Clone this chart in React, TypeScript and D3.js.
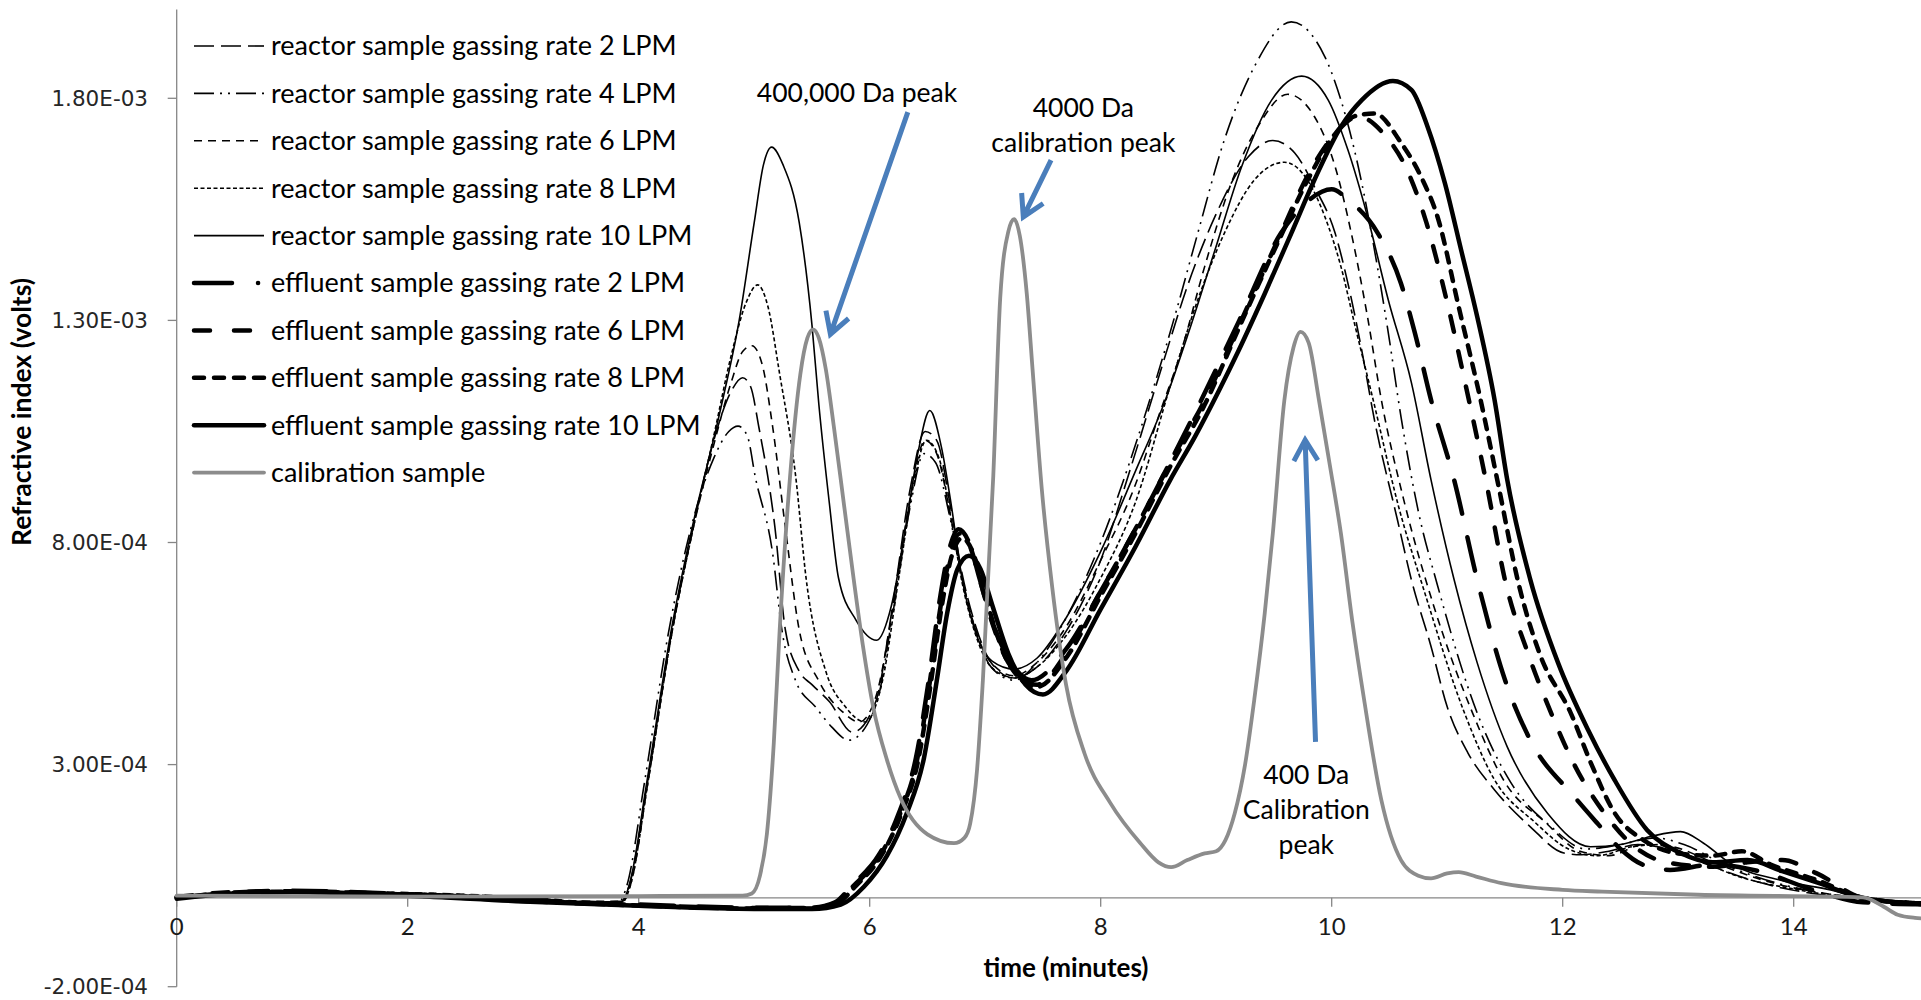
import React from 'react';
import * as d3 from 'd3';

// values are refractive index in units of 1e-4 volts, time in minutes
const reactor2 = [[0,0.02],[0.5,0.12],[1,0.15],[2,0.1],[3,0],[3.6,-0.1],[3.85,-0.08],[3.92,0.3],[4.07,2.5],[4.28,5.9],[4.46,8.2],[4.65,10.3],[4.8,11.4],[4.9,11.71],[4.97,11.5],[5.04,10.6],[5.18,8.33],[5.27,6.03],[5.39,5.1],[5.5,4.8],[5.65,4.42],[5.85,3.73],[6.05,4.4],[6.2,6.6],[6.35,9.2],[6.48,10.5],[6.58,10.3],[6.7,8.8],[6.8,7.3],[6.92,6.1],[7.05,5.3],[7.25,4.95],[7.45,5.2],[7.7,6.0],[8.0,7.6],[8.25,9.6],[8.53,11.96],[8.76,13.84],[8.99,15.34],[9.28,16.69],[9.49,17.05],[9.68,16.77],[9.85,16.01],[10.03,14.96],[10.14,13.84],[10.26,12.33],[10.37,10.76],[10.57,8.5],[10.69,7.16],[10.86,5.66],[11.0,4.3],[11.18,3.26],[11.41,2.43],[11.72,1.6],[12.01,1.01],[12.16,0.97],[12.4,1.05],[12.65,1.2],[12.9,1.1],[13.2,0.8],[13.7,0.35],[14.3,0.05],[15.2,-0.1]];
const reactor4 = [[0,0],[0.5,0.1],[1,0.13],[2,0.1],[3,-0.02],[3.6,-0.12],[3.83,-0.1],[3.9,0.3],[4.05,2.6],[4.26,6.0],[4.45,8.3],[4.65,9.9],[4.78,10.5],[4.86,10.62],[4.94,10.4],[5.01,9.47],[5.16,7.75],[5.24,6.03],[5.36,4.88],[5.53,4.3],[5.67,3.85],[5.82,3.55],[6.05,4.3],[6.2,6.4],[6.35,8.8],[6.47,10.0],[6.57,9.8],[6.7,8.5],[6.8,7.2],[6.92,6.0],[7.05,5.2],[7.25,4.9],[7.45,5.3],[7.7,6.3],[8.0,8.0],[8.25,9.8],[8.47,11.59],[8.64,13.08],[8.84,14.96],[9.07,17.06],[9.33,18.71],[9.65,19.72],[9.94,18.94],[10.08,17.96],[10.23,16.46],[10.37,14.59],[10.49,12.72],[10.6,10.83],[10.75,8.7],[10.92,7.0],[11.26,4.16],[11.55,2.6],[11.9,1.6],[12.2,1.1],[12.5,1.2],[12.8,1.35],[13.05,1.2],[13.4,0.75],[13.9,0.3],[14.4,0.05],[15.2,-0.1]];
const reactor6 = [[0,0.03],[0.5,0.12],[1,0.16],[2,0.12],[3,0.02],[3.6,-0.08],[3.86,-0.08],[3.93,0.3],[4.08,2.6],[4.29,6.0],[4.47,8.3],[4.65,10.2],[4.8,11.6],[4.9,12.3],[4.98,12.43],[5.07,12.0],[5.16,10.6],[5.27,8.33],[5.39,6.03],[5.56,4.88],[5.76,4.2],[5.91,3.96],[6.05,4.5],[6.2,6.5],[6.35,9.0],[6.48,10.3],[6.58,10.0],[6.7,8.6],[6.8,7.2],[6.92,6.0],[7.05,5.3],[7.25,5.0],[7.45,5.3],[7.7,6.1],[8.0,7.6],[8.3,9.3],[8.5,10.83],[8.7,12.33],[8.9,14.21],[9.13,16.09],[9.36,17.36],[9.62,18.09],[9.85,17.59],[10.03,16.46],[10.17,14.96],[10.31,13.08],[10.43,11.21],[10.62,9.0],[10.88,6.6],[11.22,4.16],[11.5,2.6],[11.85,1.7],[12.15,1.05],[12.4,0.95],[12.7,1.2],[12.95,1.15],[13.3,0.8],[13.8,0.35],[14.4,0.05],[15.2,-0.1]];
const reactor8 = [[0,0.01],[0.5,0.11],[1,0.14],[2,0.11],[3,0.01],[3.6,-0.09],[3.86,-0.09],[3.93,0.3],[4.08,2.6],[4.29,6.0],[4.47,8.3],[4.65,10.4],[4.8,12.2],[4.93,13.4],[5.03,13.8],[5.12,13.3],[5.22,11.8],[5.36,9.47],[5.45,7.18],[5.62,5.1],[5.79,4.3],[5.96,3.96],[6.11,4.88],[6.25,7.18],[6.38,9.3],[6.49,10.3],[6.6,9.9],[6.7,8.6],[6.8,7.1],[6.92,5.9],[7.05,5.2],[7.25,4.95],[7.45,5.2],[7.7,5.9],[8.0,7.2],[8.3,8.9],[8.61,11.59],[8.84,13.46],[9.07,14.96],[9.33,16.16],[9.59,16.56],[9.79,16.16],[9.94,15.34],[10.08,14.21],[10.2,12.9],[10.36,11.2],[10.58,8.8],[10.79,7.0],[11.15,4.16],[11.4,2.7],[11.76,1.7],[12.05,1.1],[12.3,0.95],[12.6,1.15],[12.85,1.2],[13.1,0.95],[13.5,0.5],[14.0,0.2],[14.5,0.0],[15.2,-0.1]];
const reactor10 = [[0,0.0],[0.5,0.1],[1,0.14],[2,0.11],[3,0.0],[3.6,-0.1],[3.85,-0.1],[3.92,0.3],[4.07,2.6],[4.28,6.0],[4.46,8.3],[4.7,10.9],[4.87,13.0],[5.0,15.2],[5.08,16.5],[5.15,16.9],[5.25,16.5],[5.39,15.2],[5.5,12.9],[5.56,11.1],[5.65,8.9],[5.73,7.2],[5.88,6.26],[6.06,5.8],[6.19,6.6],[6.31,8.33],[6.42,10.05],[6.52,10.97],[6.62,10.16],[6.71,8.78],[6.8,7.18],[6.91,6.03],[7.06,5.33],[7.25,5.15],[7.45,5.4],[7.7,6.3],[8.0,7.8],[8.3,9.6],[8.56,11.21],[8.76,12.72],[8.99,14.59],[9.22,16.46],[9.48,17.96],[9.74,18.5],[9.97,17.96],[10.14,16.84],[10.31,15.34],[10.49,13.46],[10.69,11.6],[10.86,9.41],[11.06,7.16],[11.26,5.29],[11.52,3.4],[11.87,1.9],[12.24,1.15],[12.5,1.2],[12.76,1.38],[13.02,1.49],[13.22,1.23],[13.45,0.78],[13.88,0.4],[14.32,0.18],[14.7,-0.05],[15.2,-0.1]];
const effluent2 = [[0,0],[0.5,0.12],[1,0.16],[2,0.08],[3,-0.05],[4,-0.15],[5,-0.22],[5.5,-0.22],[5.7,-0.1],[5.85,0.29],[6.08,0.97],[6.25,1.89],[6.4,3.15],[6.51,4.88],[6.6,6.6],[6.68,7.75],[6.77,8.3],[6.86,8.0],[6.95,7.2],[7.05,6.3],[7.2,5.4],[7.4,4.9],[7.7,5.6],[8.0,6.9],[8.3,8.3],[8.6,9.8],[8.87,11.2],[9.2,13.0],[9.56,14.96],[9.8,15.7],[10.0,15.95],[10.15,15.7],[10.4,14.96],[10.6,13.83],[10.72,12.72],[10.86,11.21],[11.06,9.41],[11.26,7.16],[11.5,4.91],[11.72,3.55],[12.1,2.28],[12.3,1.68],[12.5,1.1],[12.7,0.74],[12.93,0.63],[13.3,0.75],[13.7,0.6],[14.2,0.15],[14.6,-0.1],[15.2,-0.15]];
const effluent6 = [[0,0.02],[0.5,0.13],[1,0.15],[2,0.07],[3,-0.06],[4,-0.16],[5,-0.23],[5.5,-0.23],[5.7,-0.12],[5.86,0.27],[6.09,0.95],[6.26,1.87],[6.41,3.1],[6.52,4.85],[6.61,6.5],[6.69,7.65],[6.78,8.2],[6.87,7.9],[6.96,7.1],[7.06,6.2],[7.2,5.3],[7.45,4.8],[7.7,5.5],[8.0,6.9],[8.3,8.3],[8.6,9.8],[8.9,11.2],[9.2,12.9],[9.56,14.96],[9.8,16.3],[10.03,17.2],[10.23,17.59],[10.45,17.2],[10.65,16.4],[10.82,15.2],[11.0,13.4],[11.15,11.66],[11.35,9.2],[11.5,7.16],[11.7,5.5],[11.9,4.16],[12.1,3.0],[12.36,1.91],[12.6,1.2],[12.9,0.8],[13.3,0.7],[13.6,0.8],[13.9,0.85],[14.2,0.55],[14.6,0.0],[15.2,-0.15]];
const effluent8 = [[0,0.01],[0.5,0.11],[1,0.14],[2,0.06],[3,-0.07],[4,-0.17],[5,-0.24],[5.5,-0.24],[5.72,-0.12],[5.88,0.27],[6.1,0.95],[6.27,1.87],[6.42,3.1],[6.53,4.85],[6.62,6.5],[6.7,7.6],[6.8,8.1],[6.89,7.8],[6.98,7.0],[7.08,6.1],[7.22,5.2],[7.45,4.75],[7.7,5.4],[8.0,6.8],[8.3,8.2],[8.6,9.7],[8.9,11.1],[9.2,12.85],[9.56,14.9],[9.8,16.2],[10.03,17.2],[10.2,17.6],[10.37,17.66],[10.6,17.0],[10.78,16.2],[10.92,15.3],[11.1,13.3],[11.29,11.2],[11.45,9.2],[11.61,7.16],[11.8,5.5],[12.07,4.16],[12.25,3.0],[12.45,1.91],[12.7,1.3],[13.0,1.0],[13.3,0.95],[13.55,1.05],[13.8,0.75],[14.2,0.4],[14.6,0.0],[15.2,-0.15]];
const effluent10 = [[0,-0.02],[0.5,0.1],[1,0.13],[2,0.05],[3,-0.08],[4,-0.18],[5,-0.25],[5.5,-0.25],[5.75,-0.15],[5.95,0.25],[6.15,0.95],[6.32,1.9],[6.47,3.15],[6.58,4.88],[6.67,6.4],[6.76,7.4],[6.86,7.7],[6.96,7.4],[7.06,6.6],[7.2,5.5],[7.35,4.8],[7.5,4.58],[7.7,5.1],[8.0,6.5],[8.3,7.9],[8.6,9.4],[8.82,10.4],[9.02,11.4],[9.19,12.3],[9.42,13.6],[9.65,14.96],[9.85,16.16],[10.08,17.36],[10.26,17.96],[10.53,18.39],[10.69,18.19],[10.83,17.36],[10.98,16.09],[11.12,14.59],[11.26,13.08],[11.41,11.21],[11.52,9.41],[11.72,7.16],[11.96,5.29],[12.22,3.78],[12.45,2.65],[12.73,1.53],[13.02,1.01],[13.3,0.8],[13.6,0.85],[13.9,0.6],[14.2,0.35],[14.6,0.0],[15.2,-0.15]];
const calibration = [[0,0.05],[2,0.03],[4,0.04],[4.9,0.05],[4.98,0.1],[5.05,0.5],[5.11,1.44],[5.17,3.5],[5.22,6.0],[5.31,9.47],[5.4,11.8],[5.46,12.6],[5.51,12.8],[5.56,12.6],[5.62,11.9],[5.69,10.6],[5.78,8.8],[5.86,7.2],[5.94,5.7],[6.03,4.3],[6.15,3.1],[6.27,2.23],[6.5,1.43],[6.73,1.23],[6.82,1.35],[6.87,1.67],[6.93,2.9],[6.98,4.9],[7.07,9.5],[7.13,13.5],[7.2,15.0],[7.25,15.28],[7.3,14.9],[7.36,13.6],[7.41,11.9],[7.49,9.2],[7.58,7.0],[7.7,4.8],[7.86,3.25],[8.08,2.15],[8.34,1.24],[8.5,0.8],[8.61,0.69],[8.75,0.85],[8.9,1.0],[9.0,1.05],[9.08,1.3],[9.16,1.9],[9.25,3.0],[9.33,4.47],[9.42,6.4],[9.49,8.2],[9.59,11.2],[9.67,12.4],[9.73,12.74],[9.8,12.5],[9.89,11.2],[9.98,9.8],[10.08,8.2],[10.18,6.2],[10.28,4.47],[10.43,2.2],[10.6,0.85],[10.75,0.5],[10.86,0.44],[11.0,0.55],[11.1,0.58],[11.25,0.48],[11.47,0.33],[12.0,0.18],[12.34,0.14],[13.17,0.07],[14.6,0.01],[14.78,-0.2],[14.9,-0.38],[15.05,-0.45],[15.2,-0.47]];

const seriesNames = [
  'reactor sample gassing rate 2 LPM',
  'reactor sample gassing rate 4 LPM',
  'reactor sample gassing rate 6 LPM',
  'reactor sample gassing rate 8 LPM',
  'reactor sample gassing rate 10 LPM',
  'effluent sample gassing rate 2 LPM',
  'effluent sample gassing rate 6 LPM',
  'effluent sample gassing rate 8 LPM',
  'effluent sample gassing rate 10 LPM',
  'calibration sample',
];
const seriesData = [reactor2, reactor4, reactor6, reactor8, reactor10, effluent2, effluent6, effluent8, effluent10, calibration];

const xTicks = [0, 2, 4, 6, 8, 10, 12, 14];
const yTicks = [-2e-4, 3e-4, 8e-4, 1.3e-3, 1.8e-3];
const yTickLabels = ['-2.00E-04', '3.00E-04', '8.00E-04', '1.30E-03', '1.80E-03'];

// annotation anchors in data units (minutes, 1e-4 V)
const annotationTexts = [
  { lines: ['400,000 Da peak'], at: [5.89, 18.12] },
  { lines: ['4000 Da', 'calibration peak'], at: [7.85, 17.78] },
  { lines: ['400 Da', 'Calibration', 'peak'], at: [9.78, 2.78] },
];
const annotationArrows = [
  { from: [6.33, 17.69], to: [5.66, 12.69] },
  { from: [7.57, 16.61], to: [7.33, 15.33] },
  { from: [9.86, 3.51], to: [9.77, 10.31] },
];

const W = 1921;
const H = 1000;
const FONT = 'Lato, "Open Sans", sans-serif';

const styles = [
  { color: '#000', width: 1.6, dash: '20 7', legendDash: '20 7', cap: 'butt' },
  { color: '#000', width: 1.6, dash: '20 6 2 6 2 6', legendDash: '20 6 2 6 2 6', cap: 'butt' },
  { color: '#000', width: 1.6, dash: '8 6', legendDash: '8 6', cap: 'butt' },
  { color: '#000', width: 1.6, dash: '4 2.5', legendDash: '4 2.5', cap: 'butt' },
  { color: '#000', width: 1.6, dash: null, legendDash: null, cap: 'butt' },
  { color: '#000', width: 4.5, dash: '34 24', legendDash: '38 26 0.1 30', cap: 'round' },
  { color: '#000', width: 4.5, dash: '16 20', legendDash: '16 24', cap: 'round' },
  { color: '#000', width: 4.5, dash: '10 9', legendDash: '10 10', cap: 'round' },
  { color: '#000', width: 4.5, dash: null, legendDash: null, cap: 'round' },
  { color: '#8c8c8c', width: 3.8, dash: null, legendDash: null, cap: 'round' },
];

export default function App() {
  const x = d3.scaleLinear().domain([0, 15]).range([176.7, 176.7 + 15 * 115.5]);
  const y = d3.scaleLinear().domain([-2e-4, 2e-3]).range([986.7, 986.7 - 2.2 * 444.2]);

  const line = d3
    .line<number[]>()
    .x(d => x(d[0]))
    .y(d => y(d[1] * 1e-4))
    .curve(d3.curveMonotoneX);

  const axisColor = '#868686';
  const blue = '#4a7ebb';

  const arrowPath = (a: { from: number[]; to: number[] }) => {
    const x1 = x(a.from[0]);
    const y1 = y(a.from[1] * 1e-4);
    const x2 = x(a.to[0]);
    const y2 = y(a.to[1] * 1e-4);
    const ang = Math.atan2(y2 - y1, x2 - x1);
    const len = 24;
    const spread = Math.PI / 6;
    const w1 = [x2 - len * Math.cos(ang - spread), y2 - len * Math.sin(ang - spread)];
    const w2 = [x2 - len * Math.cos(ang + spread), y2 - len * Math.sin(ang + spread)];
    return `M${x1},${y1}L${x2},${y2}M${w1[0]},${w1[1]}L${x2},${y2}L${w2[0]},${w2[1]}`;
  };

  return (
    <div style={{ position: 'absolute', left: 0, top: 0, width: W, height: H, overflow: 'hidden', background: '#fff' }}>
      <svg width={W} height={H} style={{ display: 'block' }}>
        <rect width={W} height={H} fill="#fff" />

        {/* axes */}
        <line x1={x(0)} x2={W} y1={y(0)} y2={y(0)} stroke={axisColor} strokeWidth={1.3} />
        <line x1={x(0)} x2={x(0)} y1={y(2e-3)} y2={y(-2e-4)} stroke={axisColor} strokeWidth={1.3} />
        {xTicks.map(t => (
          <g key={'xt' + t}>
            <line x1={x(t)} x2={x(t)} y1={y(0)} y2={y(0) + 9} stroke={axisColor} strokeWidth={1.3} />
            <text x={x(t)} y={y(0) + 37} textAnchor="middle" fontFamily={FONT} fontSize={24} fill="#1a1a1a">
              {t}
            </text>
          </g>
        ))}
        {yTicks.map((v, i) => (
          <g key={'yt' + i}>
            <line x1={x(0) - 9} x2={x(0)} y1={y(v)} y2={y(v)} stroke={axisColor} strokeWidth={1.3} />
            <text x={148} y={y(v)} dy="0.36em" textAnchor="end" fontFamily='"DejaVu Sans", Verdana, sans-serif' fontSize={21.5} fill="#262626">
              {yTickLabels[i]}
            </text>
          </g>
        ))}
        <text x={1066} y={977} textAnchor="middle" fontFamily={FONT} fontWeight="bold" fontSize={26} fill="#000">
          time (minutes)
        </text>
        <text
          transform="translate(31,412) rotate(-90)"
          textAnchor="middle"
          fontFamily={FONT}
          fontWeight="bold"
          fontSize={26.5}
          fill="#000"
        >
          Refractive index (volts)
        </text>

        {/* series */}
        {seriesData.map((s, i) => (
          <path
            key={'s' + i}
            d={line(s as number[][]) || ''}
            fill="none"
            stroke={styles[i].color}
            strokeWidth={styles[i].width}
            strokeDasharray={styles[i].dash || undefined}
            strokeLinecap={styles[i].cap as any}
            strokeLinejoin="round"
          />
        ))}

        {/* legend */}
        {seriesNames.map((name, i) => {
          const cy = 46 + i * 47.4;
          return (
            <g key={'lg' + i}>
              <line
                x1={194}
                x2={264}
                y1={cy}
                y2={cy}
                stroke={styles[i].color}
                strokeWidth={styles[i].width}
                strokeDasharray={styles[i].legendDash || undefined}
                strokeLinecap={styles[i].cap as any}
              />
              <text x={271} y={cy} dy="0.35em" fontFamily={FONT} fontSize={27} fill="#000">
                {name}
              </text>
            </g>
          );
        })}

        {/* annotations */}
        {annotationArrows.map((a, i) => (
          <path key={'ar' + i} d={arrowPath(a)} fill="none" stroke={blue} strokeWidth={5} strokeLinejoin="miter" />
        ))}
        {annotationTexts.map((a, i) => (
          <g key={'an' + i}>
            {a.lines.map((ln, j) => (
              <text
                key={j}
                x={x(a.at[0])}
                y={y(a.at[1] * 1e-4) + j * 35}
                dy="0.35em"
                textAnchor="middle"
                fontFamily={FONT}
                fontSize={26.5}
                fill="#000"
              >
                {ln}
              </text>
            ))}
          </g>
        ))}
      </svg>
    </div>
  );
}
